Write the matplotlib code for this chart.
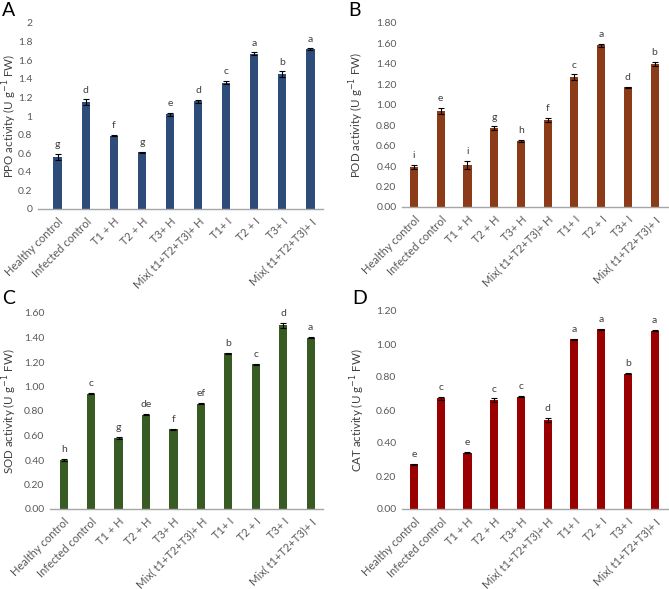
import matplotlib
matplotlib.use("Agg")
import matplotlib.pyplot as plt
import numpy as np

plt.rcParams['font.family'] = ['Lato', 'DejaVu Sans']

categories = ["Healthy control", "Infected control", "T1 + H", "T2 + H", "T3+ H",
              "Mix( t1+T2+T3)+ H", "T1+ I", "T2 + I", "T3+ I", "Mix( t1+T2+T3)+ I"]

ppo = [0.56, 1.15, 0.79, 0.61, 1.02, 1.16, 1.36, 1.67, 1.45, 1.72]
ppo_err = [0.03, 0.03, 0.006, 0.006, 0.015, 0.015, 0.015, 0.015, 0.03, 0.006]
ppo_letters = ["g", "d", "f", "g", "e", "d", "c", "a", "b", "a"]

pod = [0.39, 0.94, 0.41, 0.77, 0.65, 0.85, 1.27, 1.58, 1.17, 1.40]
pod_err = [0.02, 0.03, 0.04, 0.02, 0.01, 0.02, 0.03, 0.015, 0.004, 0.02]
pod_letters = ["i", "e", "i", "g", "h", "f", "c", "a", "d", "b"]

sod = [0.40, 0.94, 0.58, 0.77, 0.65, 0.86, 1.27, 1.18, 1.50, 1.40]
sod_err = [0.006, 0.005, 0.005, 0.004, 0.004, 0.004, 0.005, 0.004, 0.02, 0.004]
sod_letters = ["h", "c", "g", "de", "f", "ef", "b", "c", "d", "a"]

cat = [0.27, 0.67, 0.34, 0.66, 0.68, 0.54, 1.03, 1.09, 0.82, 1.08]
cat_err = [0.005, 0.01, 0.003, 0.01, 0.003, 0.01, 0.003, 0.003, 0.003, 0.003]
cat_letters = ["e", "c", "e", "c", "c", "d", "a", "a", "b", "a"]

fig = plt.figure(figsize=(6.69, 5.89), dpi=100)

W, H = 669, 589


def px_axes(x0, x1, y0, y1):
    # pixel box (left, right, top, bottom) -> figure axes
    return fig.add_axes([x0 / W, 1 - y1 / H, (x1 - x0) / W, (y1 - y0) / H])


panels = [
    # letter, values, errors, letters, color, ylabel, ymax, ticks, fmt, box, xlim, letter pos, ylabel x (px)
    ("A", ppo, ppo_err, ppo_letters, "#2E4C7A", "PPO", 2.0, np.arange(0, 2.01, 0.2), "{:g}",
     (38, 323, 23, 209), (-0.7, 9.45), (2, 2), 19),
    ("B", pod, pod_err, pod_letters, "#8B3B18", "POD", 1.8, np.arange(0, 1.81, 0.2), "{:.2f}",
     (402, 668, 23, 207), (-0.45, 9.5), (348, 2), 366),
    ("C", sod, sod_err, sod_letters, "#385A23", "SOD", 1.6, np.arange(0, 1.61, 0.2), "{:.2f}",
     (50, 323, 313, 509), (-0.5, 9.45), (2, 290), 19),
    ("D", cat, cat_err, cat_letters, "#9A0000", "CAT", 1.2, np.arange(0, 1.21, 0.2), "{:.2f}",
     (402, 668, 311, 509), (-0.45, 9.5), (352, 290), 367),
]

for (lab, vals, errs, lets, color, name, ymax, ticks, fmt, box, xlim, lpos, ylx) in panels:
    ax = px_axes(*box[:4])
    x = np.arange(len(categories))
    ax.bar(x, vals, width=0.3, color=color, zorder=2)
    ax.errorbar(x, vals, yerr=errs, fmt="none", ecolor="black", elinewidth=0.8,
                capsize=2.2, capthick=0.8, zorder=3)
    for xi, v, e, t in zip(x, vals, errs, lets):
        ax.text(xi, v + e + ymax * 0.025, t, ha="center", va="bottom",
                fontsize=7.5, color="#404040")
    ax.set_ylim(0, ymax)
    ax.set_xlim(*xlim)
    ax.set_yticks(ticks)
    ax.set_yticklabels([fmt.format(round(t, 2)) for t in ticks])
    ax.set_xticks(x)
    ax.set_xticklabels(categories, rotation=45, ha="right", rotation_mode="anchor")
    ax.tick_params(axis="both", length=0, labelsize=7.5, labelcolor="#595959", pad=4)
    ax.tick_params(axis="x", labelsize=8.0, pad=5)
    for s in ["top", "right", "left"]:
        ax.spines[s].set_visible(False)
    ax.spines["bottom"].set_color("#A6A6A6")
    ax.spines["bottom"].set_linewidth(1.0)
    ax.set_ylabel(name + " activity (U g$^{-1}$ FW)", fontsize=8.3, color="#404040")
    ax.yaxis.set_label_coords((ylx - box[0]) / (box[1] - box[0]), 0.5)
    fig.text(lpos[0] / W, 1 - lpos[1] / H, lab, fontsize=14, ha="left", va="top",
             color="black")

fig.savefig("out.png", dpi=100)
